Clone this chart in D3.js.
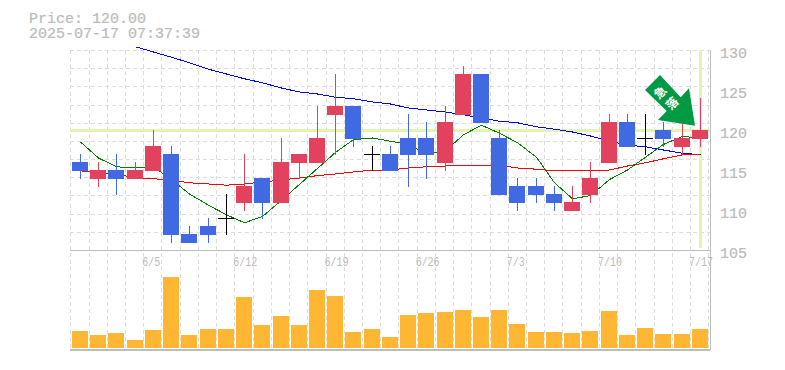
<!DOCTYPE html>
<html>
<head>
<meta charset="utf-8">
<script src="https://cdn.jsdelivr.net/npm/d3@7"></script>
<style>
    html, body { margin: 0; padding: 0; background: #fff; }
    text { font-family: "Liberation Mono", monospace; fill: #bbb; }
</style>
</head>
<body>
<svg id="chart" width="785" height="370"></svg>
<script>
// Trading days, daily candles
const dates = ["5/30", "6/2", "6/3", "6/4", "6/5", "6/6", "6/9", "6/10", "6/11", "6/12",
    "6/13", "6/16", "6/17", "6/18", "6/19", "6/20", "6/23", "6/24", "6/25", "6/26",
    "6/27", "6/30", "7/1", "7/2", "7/3", "7/4", "7/7", "7/8", "7/9", "7/10",
    "7/11", "7/14", "7/15", "7/16", "7/17"];
const opens = [116, 114, 115, 114, 115, 117, 107, 108, 109, 111, 114, 111, 116, 116, 122, 123, 117, 117,
    119, 119, 116, 122, 127, 119, 113, 113, 112, 110, 112, 116, 121, 119, 120, 118, 119];
const highs = [117, 116, 117, 116, 120, 118, 108, 109, 112, 117, 114, 119, 117, 123, 127, 123, 118, 118,
    122, 121, 123, 128, 127, 120, 114, 114, 113, 113, 116, 122, 122, 122, 121, 121, 124];
const lows = [114, 113, 112, 114, 115, 106, 106, 106, 107, 110, 109, 111, 114, 116, 117, 118, 115, 115,
    113, 114, 115, 122, 121, 112, 110, 111, 110, 110, 111, 116, 118, 117, 118, 117, 118];
const closes = [115, 115, 114, 115, 118, 107, 106, 107, 109, 113, 111, 116, 117, 119, 123, 119, 117, 115,
    117, 117, 121, 127, 121, 112, 111, 112, 111, 111, 114, 121, 118, 119, 119, 119, 120];
const volumes = [17, 13, 15, 8, 18, 71, 13, 19, 19, 51, 23, 32, 23, 58, 52, 16, 19, 11,
    33, 35, 36, 38, 31, 38, 24, 16, 16, 15, 17, 37, 13, 20, 14, 14, 19];

// Moving averages
const ma5 = [118.5, 116.5, 115.4, 115.25, 115.4, 113.8, 112, 110.6, 109.4, 108.4, 109.2, 111.2, 113.2, 115.2,
    117.2, 118.8, 119, 118.6, 118.2, 117, 117.4, 119.4, 120.6, 119.6, 118.4, 116.6, 113.4, 111.4, 111.8,
    113.8, 115, 116.6, 118.2, 119.2, 119];
const ma25 = [114.9, 114.6, 114.5, 114, 113.9, 113.75, 113.4, 113.25, 113.1, 113.25, 113.5, 113.75, 114, 114.3,
    114.5, 114.75, 115, 115, 115.25, 115.4, 115.5, 115.6, 115.6, 115.6, 115.25, 115.1, 114.9, 114.9, 114.9,
    115, 115.5, 115.9, 116.4, 116.9, 117];
const ma75 = [null, null, null, 130.4, 129.75, 129.1, 128.4, 127.6, 127, 126.4, 125.9, 125.25, 124.75, 124.5,
    124.1, 123.9, 123.5, 123.25, 122.75, 122.5, 122.25, 121.9, 121.5, 121.1, 120.9, 120.4, 120.1, 119.75,
    119.25, 118.6, 118.1, 117.9, 117.5, 117.1, 116.9];

const priceTicks = [130, 125, 120, 115, 110, 105];
const dateTicks = ["6/5", "6/12", "6/19", "6/26", "7/3", "7/10", "7/17"];
const gridRows = d3.range(0, 12);
const lastPrice = 120;

const RED = "#e3425f", BLUE = "#4169e1", GRID = "#dcdcdc", FRAME = "#bdbdbd", BAND = "#e4f3b0";

const svg = d3.select("#chart");

// Scales
const x = d3.scaleBand().domain(dates).range([70.3, 708.3]);
const cx = d => Math.round(x(d) + 9.7);
const y = d3.scaleLinear().domain([105, 130]).range([250, 50]);
const yVol = d3.scaleLinear().domain([0, 71]).range([348, 277]);
const yGrid = d3.scaleLinear().domain([0, 11]).range([50, 250]);

// Grid
const grid = svg.append("g").attr("stroke", GRID).attr("stroke-dasharray", "4 3")
    .attr("shape-rendering", "crispEdges");
grid.selectAll(".grid-h").data(gridRows).enter().append("line")
    .attr("x1", 70).attr("x2", 710)
    .attr("y1", d => Math.round(yGrid(d)) + 0.5).attr("y2", d => Math.round(yGrid(d)) + 0.5);
grid.selectAll(".grid-v").data(dates).enter().append("line")
    .attr("x1", d => Math.round(x(d)) + 0.5).attr("x2", d => Math.round(x(d)) + 0.5)
    .attr("y1", 50).attr("y2", 350);
grid.append("line").attr("x1", 708.5).attr("x2", 708.5).attr("y1", 50).attr("y2", 350);

// Current price and date bands
svg.append("line").attr("x1", 70).attr("x2", 710).attr("y1", y(lastPrice) + 0.5).attr("y2", y(lastPrice) + 0.5)
    .attr("stroke", BAND).attr("stroke-width", 3);
svg.append("line").attr("x1", cx("7/17") + 0.5).attr("x2", cx("7/17") + 0.5).attr("y1", 50).attr("y2", 248)
    .attr("stroke", BAND).attr("stroke-width", 3);

// Frame
const frame = svg.append("g").attr("stroke", FRAME).attr("shape-rendering", "crispEdges");
frame.append("line").attr("x1", 70).attr("x2", 710).attr("y1", 250.5).attr("y2", 250.5);
frame.append("line").attr("x1", 70).attr("x2", 710).attr("y1", 349.5).attr("y2", 349.5).attr("stroke-width", 2);
frame.append("line").attr("x1", 710.5).attr("x2", 710.5).attr("y1", 50).attr("y2", 350);

// Moving averages
const line = d3.line()
    .defined(d => d.v !== null)
    .x(d => cx(d.date) + 0.5)
    .y(d => y(d.v));
[[ma75, "#0000ff"], [ma25, "#ff0000"], [ma5, "#008000"]].forEach(([values, color]) => {
    svg.append("path")
        .attr("d", line(values.map((v, i) => ({ date: dates[i], v: v }))))
        .attr("fill", "none")
        .attr("stroke", color)
        .attr("shape-rendering", "crispEdges");
});

// Candles
const candles = svg.append("g").attr("shape-rendering", "crispEdges");
dates.forEach((date, i) => {
    const o = opens[i], c = closes[i];
    const color = o === c ? "#000" : (c > o ? RED : BLUE);
    candles.append("line")
        .attr("x1", cx(date) + 0.5).attr("x2", cx(date) + 0.5)
        .attr("y1", y(highs[i])).attr("y2", y(lows[i]) + 1)
        .attr("stroke", color);
    if (o === c) {
        candles.append("line")
            .attr("x1", cx(date) - 8).attr("x2", cx(date) + 8)
            .attr("y1", y(o) + 0.5).attr("y2", y(o) + 0.5)
            .attr("stroke", color);
    } else {
        candles.append("rect")
            .attr("x", cx(date) - 8).attr("width", 16)
            .attr("y", y(Math.max(o, c)))
            .attr("height", Math.abs(y(o) - y(c)) + 1)
            .attr("fill", color);
    }
});

// Volume
svg.append("g").selectAll("rect").data(volumes).enter().append("rect")
    .attr("x", (d, i) => cx(dates[i]) - 8)
    .attr("width", 16)
    .attr("y", d => yVol(d))
    .attr("height", d => yVol(0) - yVol(d))
    .attr("fill", "#ffb733");

// Axis labels
svg.append("g").selectAll("text").data(priceTicks).enter().append("text")
    .attr("x", 720).attr("y", d => y(d) + 8)
    .attr("font-size", 15)
    .attr("stroke", "#bbb").attr("stroke-width", 0.2)
    .text(d => d);
svg.append("g").selectAll("text").data(dateTicks).enter().append("text")
    .attr("transform", d => `translate(${x(d) - 1},266) scale(0.8,1)`)
    .attr("font-size", 12.5)
    .text(d => d);

// Header
svg.append("text").attr("x", 29).attr("y", 23).attr("font-size", 15)
    .attr("stroke", "#bbb").attr("stroke-width", 0.2)
    .text("Price: " + lastPrice.toFixed(2));
svg.append("text").attr("x", 29).attr("y", 38).attr("font-size", 15)
    .attr("stroke", "#bbb").attr("stroke-width", 0.2)
    .text("2025-07-17 07:37:39");

// Signal arrow, tip sits just above the last candle
const arrowShape = [[-35, -50.7], [-50, -35.7], [-28.3, -14.7], [-37, -5.7], [0, 0], [-6, -37.4], [-14.3, -28.4]];
const arrow = svg.append("g").attr("transform", `translate(${cx("7/17") - 5},${y(lastPrice) - 4.3})`);
arrow.append("polygon")
    .attr("points", arrowShape.join(" "))
    .attr("fill", "#009a44");
[["急", -35, -33.5], ["落", -23, -22.5]].forEach(([ch, dx, dy]) => {
    arrow.append("text")
        .attr("transform", `translate(${dx},${dy}) rotate(-45)`)
        .attr("text-anchor", "middle").attr("dy", "0.38em")
        .attr("font-size", 12).attr("font-weight", "bold")
        .style("font-family", "'Noto Sans CJK JP'").style("fill", "#fff")
        .text(ch);
});
</script>
</body>
</html>
